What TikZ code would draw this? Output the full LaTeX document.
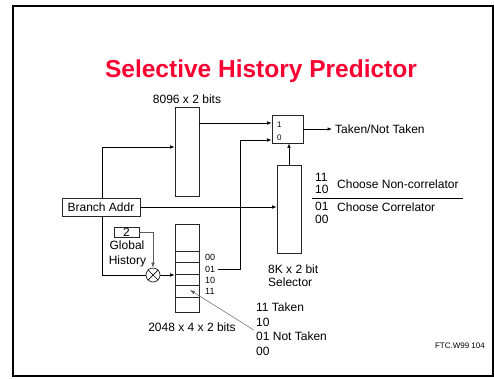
\documentclass[tikz,border=0pt]{standalone}
\usepackage{fontspec}
\setmainfont{Liberation Sans}
\usetikzlibrary{arrows.meta}
\definecolor{titlered}{RGB}{250,0,50}
\begin{document}
\begin{tikzpicture}[x=1pt,y=-1pt,
  tbl/.style={draw=black!85,line width=0.7pt,inner sep=0pt,minimum width=24pt,minimum height=88pt},
  boxed/.style={draw=black!85,line width=0.7pt,inner sep=0pt},
  lbl/.style={inner sep=0pt,font=\fontsize{12}{14}\selectfont},
  small/.style={inner sep=0pt,font=\fontsize{9}{10}\selectfont},
  tiny/.style={inner sep=0pt,font=\fontsize{8}{9}\selectfont},
  wire/.style={line width=0.7pt,-{Latex[length=4.5pt,width=3.5pt]}},
  plain/.style={line width=0.7pt},
  thinw/.style={line width=0.45pt,draw=black!65,-{Latex[length=5pt,width=3.5pt]}}]
\useasboundingbox (0,0) rectangle (494,378);
\draw[line width=2pt] (12.5,5.5) rectangle (492.5,375.5);
\node[font=\fontsize{24.5}{28}\selectfont\bfseries,text=titlered,anchor=base,inner sep=0pt] (title) at (261,77) {Selective History Predictor};
% top table
\node[tbl,minimum height=89pt] (top) at (187,151.5) {};
\node[lbl,anchor=base] (topcap) at (187,103) {8096 x 2 bits};
% mux
\node[boxed,minimum width=31pt,minimum height=28pt] (mux) at (287.5,129) {};
\node[tiny,anchor=base west] (m1) at (277,127) {1};
\node[tiny,anchor=base west] (m0) at (277,140) {0};
\node[lbl,anchor=base west] (out) at (335,133) {Taken/Not Taken};
\coordinate (outarr) at (332,129);
% selector
\node[tbl] (sel) at (289,209) {};
\node[lbl,anchor=base west] (selA) at (268,273) {8K x 2 bit};
\node[lbl,anchor=base west] (selB) at (268,286) {Selector};
% branch addr
\node[boxed,lbl,minimum width=78pt,minimum height=18pt] (ba) at (101,207) {Branch Addr};
% global history
\node[boxed,lbl,minimum width=25pt,minimum height=10pt] (two) at (126.5,232) {2};
\node[lbl,anchor=base] (gh1) at (127,249) {Global};
\node[lbl,anchor=base] (gh2) at (127.5,264) {History};
\node[circle,draw=black!85,line width=0.7pt,minimum size=14pt,inner sep=0pt] (xor) at (153,275) {};
\draw[plain] (xor.45) -- (xor.225) (xor.135) -- (xor.315);
% bottom table
\node[tbl] (bt) at (187,268) {};
\foreach \yy in {251,262,274,285,297} \draw[plain,draw=black!85] (bt.west |- 0,\yy) -- (bt.east |- 0,\yy);
\node[small,anchor=base west] (l00) at (205,260) {00};
\node[small,anchor=base west] (l01) at (205,272) {01};
\node[small,anchor=base west] (l10) at (205,283) {10};
\node[small,anchor=base west] (l11) at (205,294) {11};
\coordinate (bt11) at (190,290);
\node[lbl,anchor=base] (btcap) at (192,331) {2048 x 4 x 2 bits};
% selector legend
\node[lbl,anchor=base west] (s11) at (315,181) {11};
\node[lbl,anchor=base west] (s10) at (315,193) {10};
\node[lbl,anchor=base west] (snc) at (337,188) {Choose Non-correlator};
\coordinate (divL) at (312,198);
\coordinate (divR) at (463,198);
\draw[plain] (divL) -- (divR);
\node[lbl,anchor=base west] (s01) at (315,210.5) {01};
\node[lbl,anchor=base west] (scc) at (337,211) {Choose Correlator};
\node[lbl,anchor=base west] (s00) at (315,223) {00};
% counter legend
\node[lbl,anchor=base west] (c11) at (256,311) {11 Taken};
\node[lbl,anchor=base west] (c10) at (256,326) {10};
\node[lbl,anchor=base west] (c01) at (256,340) {01 Not Taken};
\node[lbl,anchor=base west] (c00) at (256,355) {00};
\node[tiny,anchor=base east] (ftc) at (485,348) {FTC.W99 104};
% connectors
\coordinate (j0) at (240,140);
\draw[wire] (top.east |- 0,123) -- (mux.west |- 0,123);
\draw[wire] ([xshift=3pt]l01.east) -| (j0) -- (mux.west |- j0);
\draw[wire] (mux.east) -- (outarr);
\draw[wire] (sel.north) -- (sel.north |- mux.south);
\draw[wire] (ba.east) -- (sel.west |- ba.east);
\draw[wire] ([xshift=1pt]ba.north) |- (top.west |- 0,147);
\draw[plain] ([xshift=1pt]ba.south) |- (xor.west);
\draw[thinw] (two.east) -| (xor.north);
\draw[wire] (xor.east) -- (bt.west |- xor.east);
\draw[thinw] ([xshift=-2pt,yshift=1pt]c01.north west) -- (bt11);
\end{tikzpicture}
\end{document}
